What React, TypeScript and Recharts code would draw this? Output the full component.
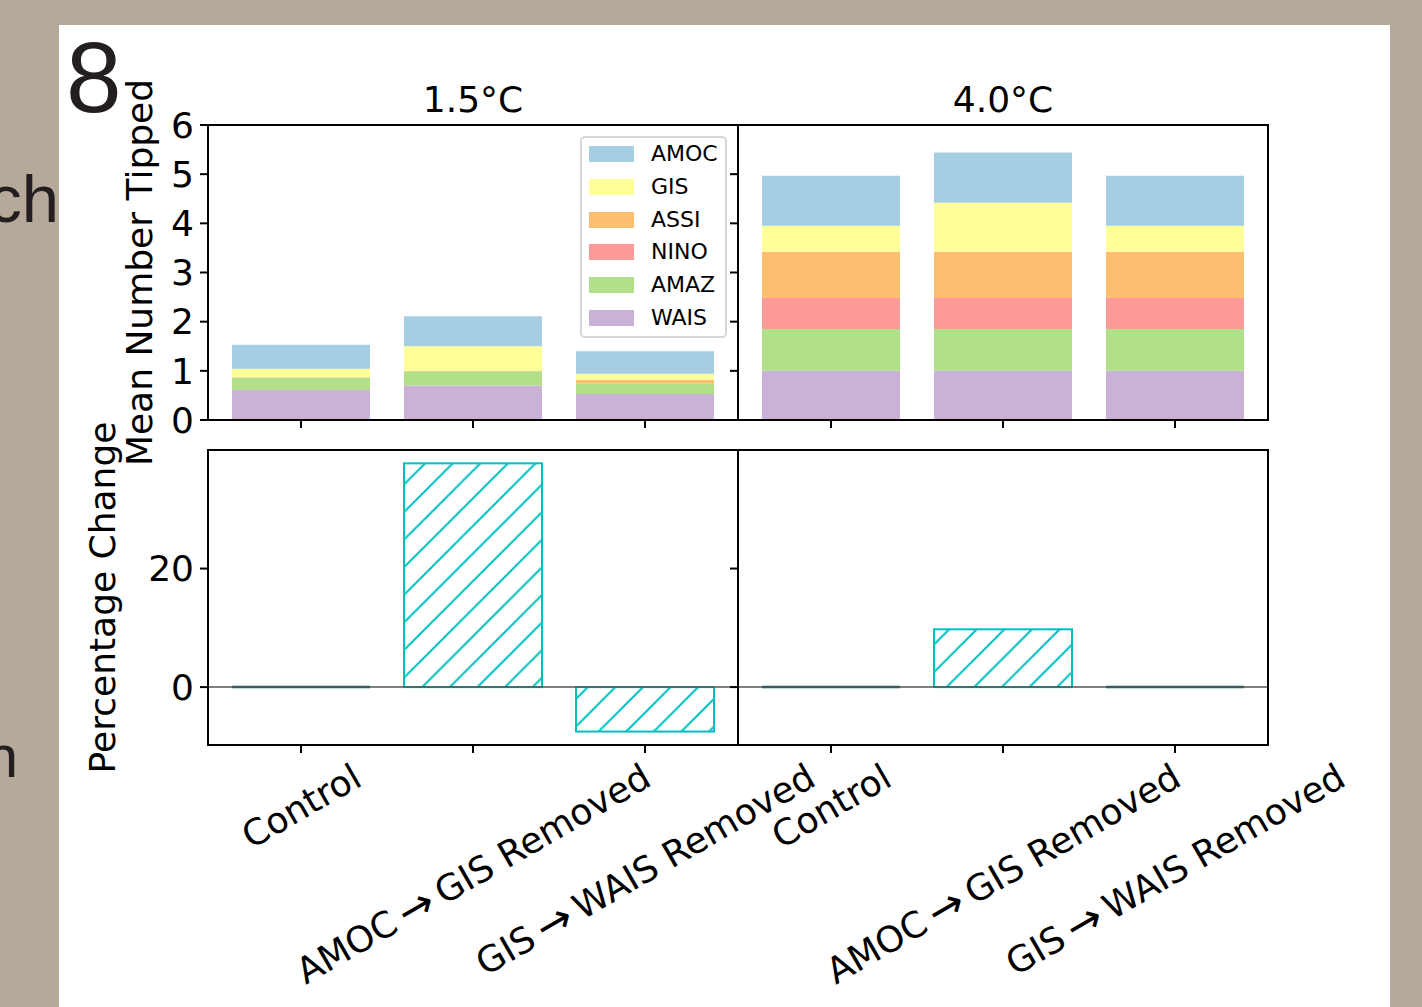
import React from 'react';
import { BarChart, Bar, XAxis, YAxis, Legend, ReferenceLine } from 'recharts';

// ---------- data ----------
const categories = ['Control', 'AMOC\u2009\u2192\u2009GIS Removed', 'GIS\u2009\u2192\u2009WAIS Removed'];
const panelTitles = ['1.5°C', '4.0°C'];

// stack order bottom -> top
const seriesNames = ['WAIS', 'AMAZ', 'NINO', 'ASSI', 'GIS', 'AMOC'];
const seriesColors = ['#cab2d6', '#b2df8a', '#fb9a99', '#fdbf6f', '#ffff99', '#a6cee3'];

// 1.5°C mean number tipped
const wais15 = [0.61, 0.7, 0.53];
const amaz15 = [0.25, 0.29, 0.22];
const nino15 = [0, 0, 0];
const assi15 = [0.01, 0.01, 0.07];
const gis15 = [0.17, 0.5, 0.12];
const amoc15 = [0.49, 0.61, 0.46];

// 4.0°C mean number tipped
const wais40 = [1.0, 1.0, 1.0];
const amaz40 = [0.85, 0.85, 0.85];
const nino40 = [0.63, 0.63, 0.63];
const assi40 = [0.94, 0.94, 0.94];
const gis40 = [0.53, 1.0, 0.53];
const amoc40 = [1.02, 1.02, 1.02];

// percentage change
const pct15 = [0, 37.75, -7.5];
const pct40 = [0, 9.75, 0];

const countTicks = [0, 1, 2, 3, 4, 5, 6];
const pctTicks = [0, 20];
const countDomain = [0, 6];
const pctDomain = [-9.77, 40.0];

// ---------- helpers ----------
const FONT = '"DejaVu Sans", sans-serif';
const CYAN = '#00bfbf';
const HATCH = 27.6;
const ARROW = '\u2192';
const ARROW_SIZE = 43;

const buildStack = (cols: number[][]) =>
  categories.map((name, i) => {
    const row: any = { name };
    seriesNames.forEach((s, k) => (row[s] = cols[k][i]));
    return row;
  });
const buildPct = (vals: number[]) => categories.map((name, i) => ({ name, pct: vals[i] }));

const stack15 = buildStack([wais15, amaz15, nino15, assi15, gis15, amoc15]);
const stack40 = buildStack([wais40, amaz40, nino40, assi40, gis40, amoc40]);
const pctData15 = buildPct(pct15);
const pctData40 = buildPct(pct40);

const tickStyle = { fontSize: 36, fill: '#000', fontFamily: FONT };
const EmptyTick = () => <g />;

let measureCtx: CanvasRenderingContext2D | null = null;
const measure = (t: string, size = 36) => {
  if (!measureCtx) {
    const c = document.createElement('canvas');
    measureCtx = c.getContext('2d');
  }
  if (!measureCtx) return t.length * size * 0.6;
  measureCtx.font = `${size}px "DejaVu Sans"`;
  return measureCtx.measureText(t).width;
};

const RotTick = (props: any) => {
  const { x, y, payload } = props;
  const label = String(payload.value);
  const parts = label.split(ARROW);
  let L = 0;
  parts.forEach((p) => (L += measure(p)));
  L += (parts.length - 1) * measure(ARROW, ARROW_SIZE);
  const H = 42;
  const bh = L * 0.5 + H * 0.866;
  const cy = y + bh / 2;
  return (
    <text
      transform={`translate(${x},${cy}) rotate(-30)`}
      textAnchor="middle"
      dominantBaseline="central"
      fontSize={36}
      fontFamily={FONT}
      fill="#000"
    >
      {parts.map((p, i) => (
        <React.Fragment key={i}>
          {i > 0 && <tspan fontSize={ARROW_SIZE}>{ARROW}</tspan>}
          <tspan fontSize={36}>{p}</tspan>
        </React.Fragment>
      ))}
    </text>
  );
};

const HatchBar = (props: any) => {
  const { x, y, width, height, index, offX, offY, panel } = props;
  if (![x, y, width, height].every((v) => typeof v === 'number' && isFinite(v))) return null;
  const top = Math.min(y, y + height);
  const h = Math.abs(height);
  if (h < 1) {
    return <line x1={x} x2={x + width} y1={top} y2={top} stroke="#0a7273" strokeWidth={2.5} />;
  }
  const id = `hatch-${panel}-${index}`;
  const phase = (((5.3 - offX - offY) % HATCH) + HATCH) % HATCH;
  return (
    <g>
      <defs>
        <pattern id={id} patternUnits="userSpaceOnUse" width={HATCH} height={HATCH} x={phase} y={0}>
          <path
            d={`M0,${HATCH} L${HATCH},0 M${-HATCH / 2},${HATCH / 2} L${HATCH / 2},${-HATCH / 2} M${HATCH / 2},${HATCH * 1.5} L${HATCH * 1.5},${HATCH / 2}`}
            stroke={CYAN}
            strokeWidth={2}
            fill="none"
          />
        </pattern>
      </defs>
      <rect x={x} y={top} width={width} height={h} fill={`url(#${id})`} stroke={CYAN} strokeWidth={2} />
    </g>
  );
};

const legendOrder = [...seriesNames].reverse();
const legendColors = [...seriesColors].reverse();

const LegendBox = () => (
  <div
    style={{
      position: 'relative',
      width: 147,
      height: 202,
      boxSizing: 'border-box',
      border: '2px solid #d6d6d6',
      borderRadius: 5,
      background: 'rgba(255,255,255,0.8)',
      fontFamily: FONT,
    }}
  >
    {legendOrder.map((name, i) => {
      const c = 16.2 + i * 32.66;
      return (
        <React.Fragment key={name}>
          <div
            style={{ position: 'absolute', left: 7, top: c - 8, width: 45, height: 16, background: legendColors[i] }}
          />
          <div
            style={{
              position: 'absolute',
              left: 69,
              top: c - 11,
              fontSize: 22,
              lineHeight: '22px',
              color: '#000',
              whiteSpace: 'nowrap',
            }}
          >
            {name}
          </div>
        </React.Fragment>
      );
    })}
  </div>
);

const Frame = ({ x1, y1, x2, y2 }: { x1: number; y1: number; x2: number; y2: number }) => (
  <div
    style={{
      position: 'absolute',
      left: x1 - 1,
      top: y1 - 1,
      width: x2 - x1 + 2,
      height: y2 - y1 + 2,
      boxSizing: 'border-box',
      border: '2px solid #000',
      pointerEvents: 'none',
    }}
  />
);

const tickLineStyle = { stroke: '#000', strokeWidth: 2 };

function StackPanel({ data, left, showY, showLegend }: any) {
  const yW = showY ? 68 : 10;
  const rightM = 4;
  const top = 95;
  return (
    <div style={{ position: 'absolute', left, top }}>
      <BarChart
        width={yW + 530 + rightM}
        height={355}
        data={data}
        margin={{ top: 30, right: rightM, bottom: 20, left: 0 }}
        barSize={138}
      >
        <XAxis
          dataKey="name"
          type="category"
          padding={{ left: 7, right: 7 }}
          axisLine={false}
          stroke="#000"
          tickLine={tickLineStyle}
          tickSize={8}
          tick={EmptyTick}
          height={10}
          interval={0}
        />
        <YAxis
          type="number"
          domain={countDomain}
          ticks={countTicks}
          width={yW}
          axisLine={false}
          stroke="#000"
          tickLine={tickLineStyle}
          tickSize={8}
          tickMargin={6}
          tick={showY ? tickStyle : EmptyTick}
          interval={0}
          allowDataOverflow
        />
        {seriesNames.map((s, k) => (
          <Bar key={s} dataKey={s} stackId="a" fill={seriesColors[k]} isAnimationActive={false} />
        ))}
        {showLegend && (
          <Legend
            layout="vertical"
            align="center"
            verticalAlign="middle"
            wrapperStyle={{ left: 580 - left, top: 136 - top, width: 147, height: 202 }}
            content={() => <LegendBox />}
          />
        )}
      </BarChart>
    </div>
  );
}

function PctPanel({ data, left, showY, panel }: any) {
  const yW = showY ? 68 : 10;
  const rightM = showY ? 120 : 140;
  const top = 430;
  return (
    <div style={{ position: 'absolute', left, top }}>
      <BarChart
        width={yW + 530 + rightM}
        height={577}
        data={data}
        margin={{ top: 20, right: rightM, bottom: 0, left: 0 }}
        barSize={138}
      >
        <XAxis
          dataKey="name"
          type="category"
          padding={{ left: 7, right: 7 }}
          axisLine={false}
          stroke="#000"
          tickLine={tickLineStyle}
          tickSize={8}
          tickMargin={2}
          tick={RotTick}
          height={262}
          interval={0}
        />
        <YAxis
          type="number"
          domain={pctDomain}
          ticks={pctTicks}
          width={yW}
          axisLine={false}
          stroke="#000"
          tickLine={tickLineStyle}
          tickSize={8}
          tickMargin={6}
          tick={showY ? tickStyle : EmptyTick}
          interval={0}
          allowDataOverflow
        />
        <ReferenceLine y={0} stroke="#555" strokeWidth={1.5} />
        <Bar
          dataKey="pct"
          isAnimationActive={false}
          shape={(p: any) => <HatchBar {...p} offX={left} offY={top} panel={panel} />}
        />
      </BarChart>
    </div>
  );
}

export default function App() {
  return (
    <div
      style={{
        position: 'absolute',
        left: 0,
        top: 0,
        width: 1422,
        height: 1007,
        background: '#b5a999',
        overflow: 'hidden',
        fontFamily: FONT,
      }}
    >
      <div style={{ position: 'absolute', left: 59, top: 25, width: 1331, height: 990, background: '#fff' }} />
      <svg width={1422} height={1007} style={{ position: 'absolute', left: 0, top: 0 }}>
        <text x={59} y={221.7} textAnchor="end" fontSize={67} fontFamily='"Liberation Sans", Arial, sans-serif' fill="#231f20">
          ch
        </text>
        <text x={18} y={777} textAnchor="end" fontSize={60} fontFamily='"Liberation Sans", Arial, sans-serif' fill="#231f20">
          n
        </text>
        <text x={66} y={112} fontSize={100} fontFamily='"Liberation Sans", Arial, sans-serif' fill="#231f20">
          8
        </text>
        <text x={473} y={112} textAnchor="middle" fontSize={36} fontFamily={FONT} fill="#000">
          {panelTitles[0]}
        </text>
        <text x={1003} y={112} textAnchor="middle" fontSize={36} fontFamily={FONT} fill="#000">
          {panelTitles[1]}
        </text>
        <text transform="translate(151.5,272.5) rotate(-90)" textAnchor="middle" fontSize={36} fontFamily={FONT} fill="#000">
          Mean Number Tipped
        </text>
        <text transform="translate(114.5,597.5) rotate(-90)" textAnchor="middle" fontSize={36} fontFamily={FONT} fill="#000">
          Percentage Change
        </text>
      </svg>

      <StackPanel data={stack15} left={140} showY showLegend />
      <StackPanel data={stack40} left={728} showY={false} showLegend={false} />
      <PctPanel data={pctData15} left={140} showY panel="a" />
      <PctPanel data={pctData40} left={728} showY={false} panel="b" />

      <Frame x1={208} y1={125} x2={738} y2={420} />
      <Frame x1={738} y1={125} x2={1268} y2={420} />
      <Frame x1={208} y1={450} x2={738} y2={745} />
      <Frame x1={738} y1={450} x2={1268} y2={745} />
    </div>
  );
}
